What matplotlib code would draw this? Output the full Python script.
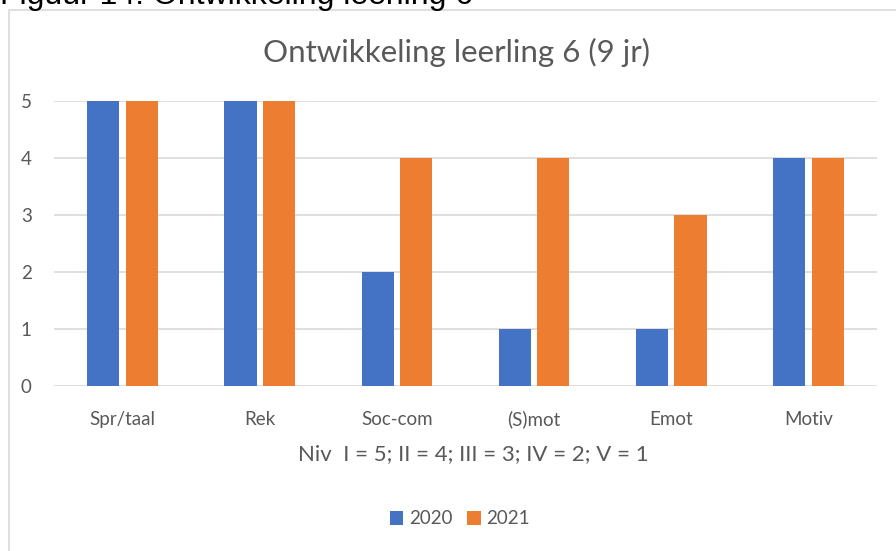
import matplotlib.pyplot as plt
import numpy as np
from matplotlib.patches import Rectangle

categories = ["Spr/taal", "Rek", "Soc-com", "(S)mot", "Emot", "Motiv"]
values_2020 = [5, 5, 2, 1, 1, 4]
values_2021 = [5, 5, 4, 4, 3, 4]
yticks = [0, 1, 2, 3, 4, 5]

blue = "#4472C4"
orange = "#ED7D31"
grey = "#595959"

plt.rcParams['font.family'] = ['Lato', 'DejaVu Sans']

fig = plt.figure(figsize=(8.96, 5.51), dpi=100)

# caption above the chart box, mostly cut off
fig.text(0.0, 1 - 4 / 551, "Figuur 14: Ontwikkeling leerling 6", fontsize=23,
         family=['Liberation Sans'], color="black", ha="left", va="baseline")

# chart frame
fig.patches.append(Rectangle((9 / 896, -0.1), 1.1, 1 - 10 / 551 + 0.1,
                             transform=fig.transFigure, fill=False,
                             edgecolor="#D9D9D9", linewidth=1.2))

ax = fig.add_axes([54 / 896, 1 - 386 / 551, (877 - 54) / 896, (386 - 101) / 551])

x = np.arange(len(categories))
w = 0.235
ax.bar(x - 0.14, values_2020, w, color=blue, label="2020", zorder=3)
ax.bar(x + 0.14, values_2021, w, color=orange, label="2021", zorder=3)

ax.set_xlim(-0.5, len(categories) - 0.5)
ax.set_ylim(0, 5)
ax.set_yticks(yticks)
ax.set_xticks(x)
ax.set_xticklabels(categories)
ax.grid(axis="y", color="#D9D9D9", linewidth=1.2, zorder=0)
for s in ax.spines.values():
    s.set_visible(False)
ax.tick_params(length=0, colors=grey, labelsize=13.5)
ax.tick_params(axis="x", pad=28)
ax.tick_params(axis="y", pad=20)
for lbl in ax.get_yticklabels():
    lbl.set_horizontalalignment("center")
for lbl in ax.get_xticklabels():
    lbl.set_verticalalignment("baseline")

fig.text(473 / 896, 1 - 460 / 551, "Niv  I = 5; II = 4; III = 3; IV = 2; V = 1",
         ha="center", va="baseline", fontsize=16, color=grey)

fig.text(456 / 896, 1 - 62 / 551, "Ontwikkeling leerling 6 (9 jr)",
         ha="center", va="baseline", fontsize=22.5, color=grey)

fig.legend(loc="center", bbox_to_anchor=(460 / 896, 1 - 519 / 551), ncol=2,
           frameon=False, fontsize=13.5, labelcolor=grey, handlelength=0.7,
           handleheight=0.7, handletextpad=0.3, columnspacing=0.8)

fig.savefig("out.png", dpi=100)
